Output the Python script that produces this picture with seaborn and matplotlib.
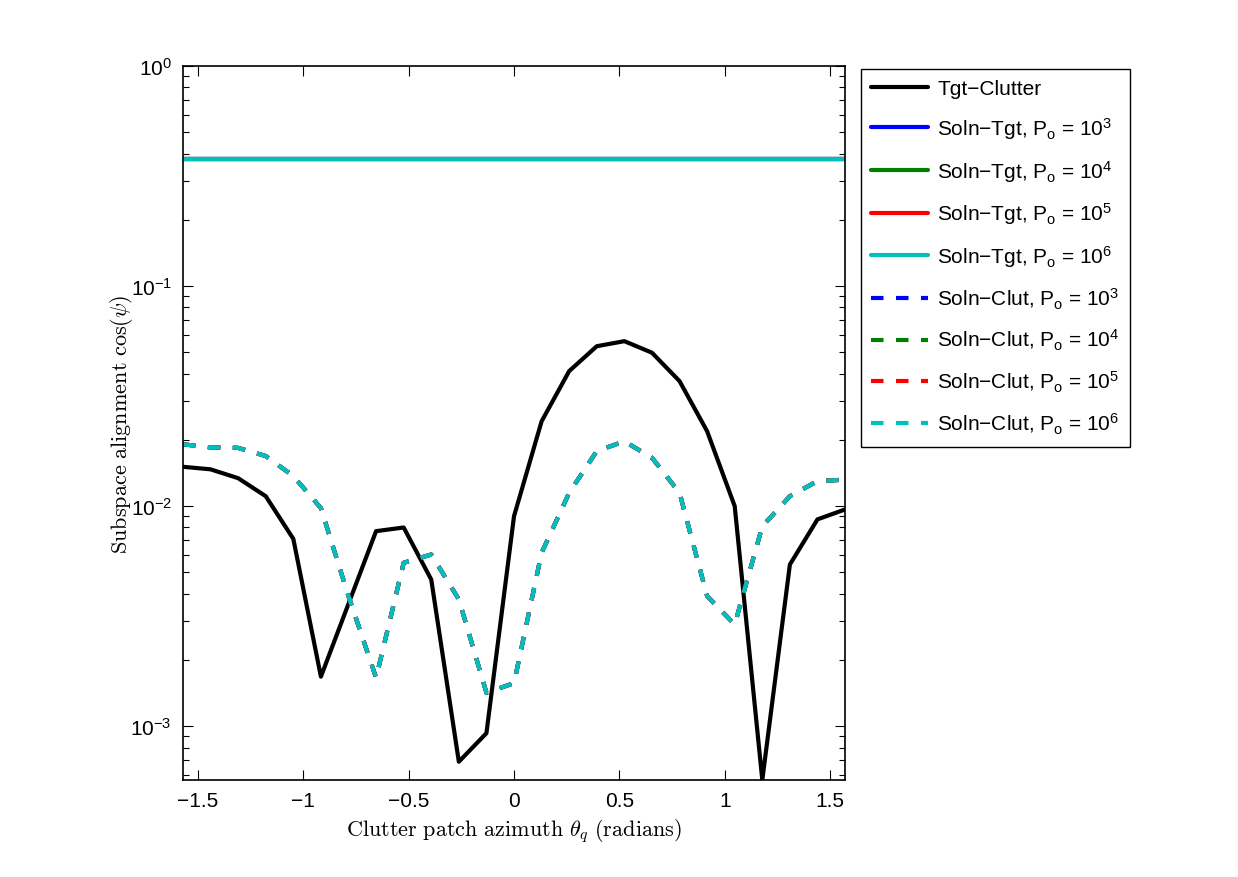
"""
Subspace alignment between the adapted solution, the target and the clutter
patches as a function of clutter patch azimuth.
"""
import matplotlib
matplotlib.use("Agg")
import matplotlib.pyplot as plt
import numpy as np
import seaborn as sns

sns.set_style("ticks")
plt.rcParams["font.family"] = ["Liberation Sans", "DejaVu Sans"]
plt.rcParams["mathtext.fontset"] = "custom"
plt.rcParams["mathtext.rm"] = "Liberation Sans"
plt.rcParams["mathtext.it"] = "Liberation Sans:italic"
plt.rcParams["mathtext.bf"] = "Liberation Sans:bold"
for key in ["text.color", "axes.labelcolor", "xtick.color", "ytick.color",
            "axes.edgecolor"]:
    plt.rcParams[key] = "black"

# clutter patch azimuths (radians)
theta = [-1.5708, -1.4399, -1.3090, -1.1781, -1.0472, -0.9163, -0.7854,
         -0.6545, -0.5236, -0.3927, -0.2618, -0.1309, 0.0, 0.1309, 0.2618,
         0.3927, 0.5236, 0.6545, 0.7854, 0.9163, 1.0472, 1.1781, 1.3090,
         1.4399, 1.5708]

# target vs clutter alignment
tgt_clutter = [0.0151, 0.0147, 0.0134, 0.0111, 0.0071, 0.00168, 0.0036,
               0.0077, 0.0080, 0.00464, 0.00069, 0.00093, 0.0090, 0.0243,
               0.0411, 0.0533, 0.0562, 0.0498, 0.0370, 0.0219, 0.0100,
               0.00057, 0.00543, 0.00871, 0.00966]

# solution vs target alignment, same for every P_o
powers = [3, 4, 5, 6]
soln_tgt_level = [0.376, 0.376, 0.376, 0.376]

# solution vs clutter alignment, same for every P_o
soln_clut = [0.0191, 0.0185, 0.0184, 0.0169, 0.0137, 0.0098, 0.0039,
             0.00166, 0.00553, 0.00603, 0.00377, 0.00142, 0.00157, 0.00614,
             0.0115, 0.0178, 0.0197, 0.0166, 0.0115, 0.0039, 0.0029,
             0.0081, 0.0111, 0.0130, 0.0132]

colors = [(0, 0, 1), (0, 0.5, 0), (1, 0, 0), (0, 0.75, 0.75)]

if __name__ == "__main__":
    fig = plt.figure(figsize=(12.38, 8.78), dpi=100)
    ax = fig.add_axes([0.1478, 0.1105, 0.5348, 0.8132])

    lw = 3.0
    sns.lineplot(x=theta, y=tgt_clutter, color="k", lw=lw, ax=ax,
                 label="Tgt\u2212Clutter")
    for p, level, c in zip(powers, soln_tgt_level, colors):
        sns.lineplot(x=theta, y=[level] * len(theta), color=c, lw=lw, ax=ax,
                     label=r"Soln$-$Tgt, P$_\mathrm{o}$ = 10$^{%d}$" % p)
    for p, c in zip(powers, colors):
        sns.lineplot(x=theta, y=soln_clut, color=c, lw=lw, ax=ax,
                     ls=(0, (3, 3)),
                     label=r"Soln$-$Clut, P$_\mathrm{o}$ = 10$^{%d}$" % p)

    ax.set_yscale("log")
    ax.set_xlim(-np.pi / 2, np.pi / 2)
    ax.set_ylim(5.7e-4, 1)
    ax.set_xticks([-1.5, -1, -0.5, 0, 0.5, 1, 1.5])
    ax.set_xticklabels(["\u22121.5", "\u22121", "\u22120.5", "0", "0.5", "1", "1.5"])
    ax.tick_params(which="both", direction="in", top=True, right=True,
                   labelsize=15, width=0.8)
    ax.tick_params(which="major", length=7, pad=8)
    ax.tick_params(which="minor", length=4)
    for s in ax.spines.values():
        s.set_linewidth(1.2)

    ax.set_xlabel(r"$\mathrm{Clutter\ patch\ azimuth}\ \theta_q\ \mathrm{(radians)}$",
                  fontsize=16, math_fontfamily="cm", labelpad=4)
    ax.set_ylabel(r"$\mathrm{Subspace\ alignment\ cos}(\psi)$",
                  fontsize=16, math_fontfamily="cm", labelpad=-3)

    leg = ax.legend(loc="upper left", bbox_to_anchor=(0.6955, 0.9203),
                    bbox_transform=fig.transFigure, borderaxespad=0,
                    fontsize=15, fancybox=False, framealpha=1,
                    edgecolor="k", handlelength=2.7, handletextpad=0.45,
                    labelspacing=0.8, borderpad=0.5)
    leg.get_frame().set_linewidth(1.0)

    plt.savefig("out.png", dpi=100)
